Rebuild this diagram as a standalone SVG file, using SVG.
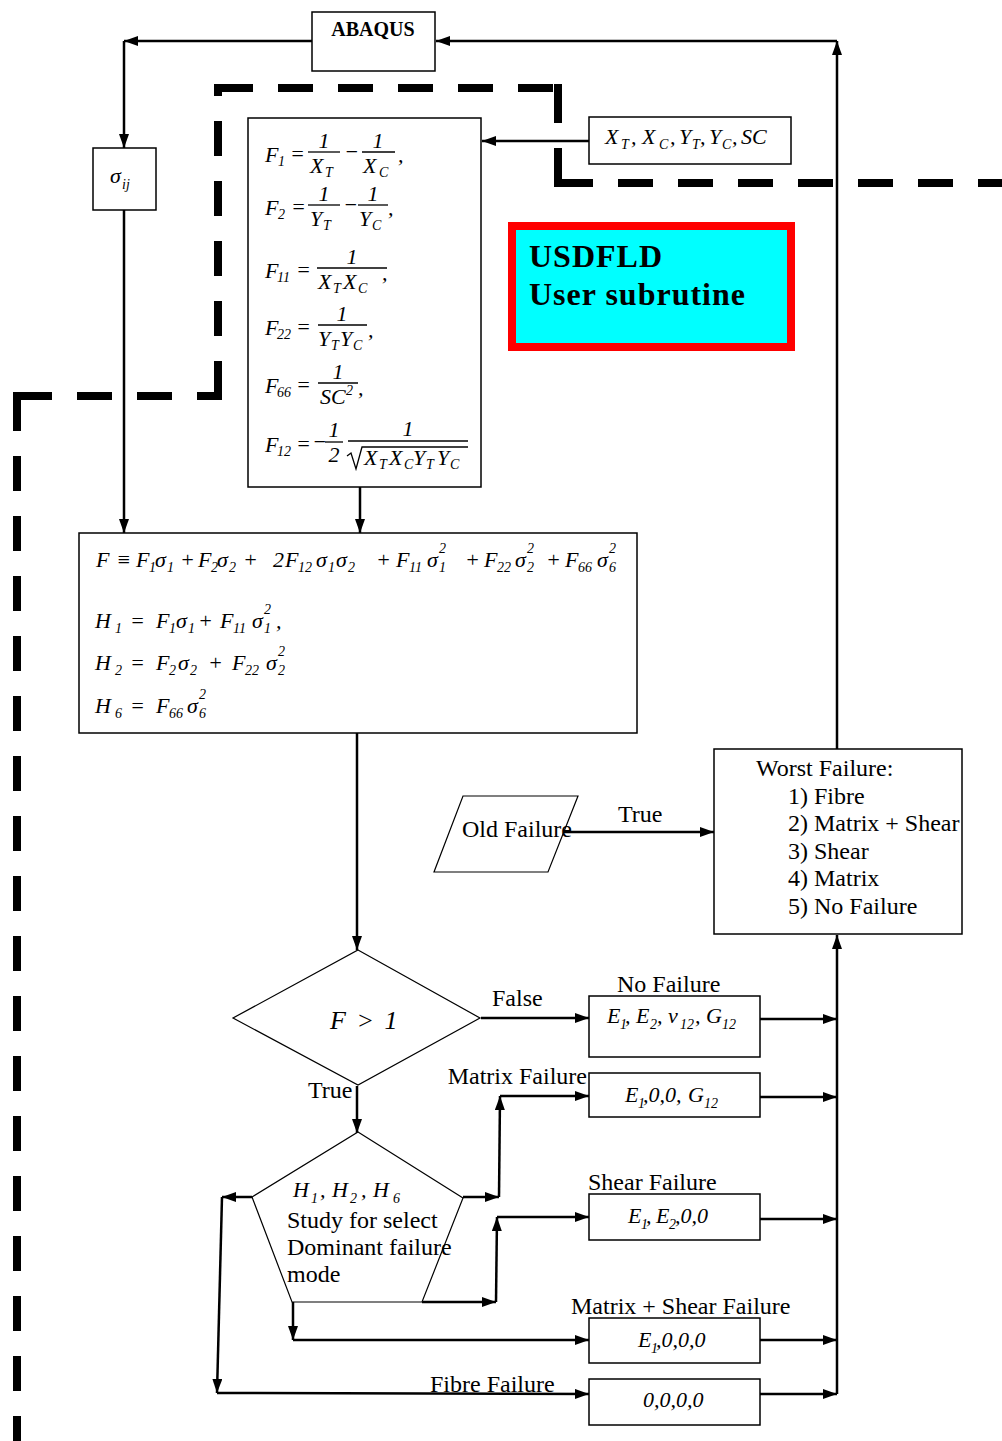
<svg xmlns="http://www.w3.org/2000/svg" width="1002" height="1441" viewBox="0 0 1002 1441">
<defs>
<marker id="ah" markerWidth="14" markerHeight="10" refX="14" refY="5" orient="auto" markerUnits="userSpaceOnUse"><path d="M0,0 L14,5 L0,10 z" fill="#000"/></marker>
<style>
.box{fill:#fff;stroke:#000;stroke-width:1.5}
.shp{fill:#fff;stroke:#000;stroke-width:1.2}
.c{fill:none;stroke:#000;stroke-width:2.5;marker-end:url(#ah)}
.bar{stroke:#000;stroke-width:1.3;fill:none}
.dash{stroke:#000;stroke-width:8;stroke-dasharray:35 25;fill:none}
.t{font-family:"Liberation Serif","Times New Roman",serif;font-size:24px;fill:#000}
.m{font-family:"Liberation Serif","Times New Roman",serif;font-style:italic;font-size:22px;fill:#000}
.s{font-size:14px}
.big{font-size:26px;letter-spacing:2px}
.b{font-family:"Liberation Serif","Times New Roman",serif;font-weight:bold;fill:#000}
</style>
</defs>
<rect width="1002" height="1441" fill="#fff"/>

<g id="dashed-boundary">
<line class="dash" x1="17" y1="396" x2="17" y2="1441"/>
<line class="dash" x1="17" y1="396" x2="218" y2="396"/>
<line class="dash" x1="218" y1="396" x2="218" y2="88"/>
<line class="dash" x1="218" y1="88" x2="558" y2="88"/>
<line class="dash" x1="558" y1="88" x2="558" y2="183"/>
<line class="dash" x1="558" y1="183" x2="1002" y2="183"/>
<rect x="13" y="392" width="8" height="8"/>
<rect x="214" y="392" width="8" height="8"/>
<rect x="214" y="84" width="8" height="8"/>
<rect x="554" y="84" width="8" height="8"/>
<rect x="554" y="179" width="8" height="8"/>
</g>

<g id="connectors">
<line class="c" x1="312" y1="41" x2="124" y2="41"/>
<line class="c" x1="124" y1="41" x2="124" y2="148"/>
<line class="c" x1="837" y1="749" x2="837" y2="41"/>
<line class="c" x1="837" y1="41" x2="436" y2="41"/>
<line class="c" x1="124" y1="210" x2="124" y2="533"/>
<line class="c" x1="589" y1="141" x2="482" y2="141"/>
<line class="c" x1="360" y1="487" x2="360" y2="533"/>
<line class="c" x1="357" y1="733" x2="357" y2="950"/>
<line class="c" x1="481" y1="1018" x2="589" y2="1018"/>
<line class="c" x1="357" y1="1086" x2="357" y2="1133"/>
<line class="c" x1="463" y1="1197" x2="499" y2="1197"/>
<line class="c" x1="499" y1="1197" x2="500" y2="1096"/>
<line class="c" x1="500" y1="1096" x2="589" y2="1096"/>
<line class="c" x1="422" y1="1302" x2="496" y2="1302"/>
<line class="c" x1="496" y1="1302" x2="497" y2="1217"/>
<line class="c" x1="497" y1="1217" x2="589" y2="1217"/>
<line class="c" x1="293" y1="1302" x2="293" y2="1340"/>
<line class="c" x1="293" y1="1340" x2="589" y2="1340"/>
<line class="c" x1="252" y1="1197" x2="222" y2="1197"/>
<line class="c" x1="222" y1="1197" x2="217" y2="1393"/>
<line class="c" x1="217" y1="1393" x2="589" y2="1394"/>
<line class="c" x1="760" y1="1019" x2="837" y2="1019"/>
<line class="c" x1="760" y1="1097" x2="837" y2="1097"/>
<line class="c" x1="760" y1="1219" x2="837" y2="1219"/>
<line class="c" x1="760" y1="1340" x2="837" y2="1340"/>
<line class="c" x1="760" y1="1394" x2="837" y2="1394"/>
<line class="c" x1="837" y1="1394" x2="837" y2="935"/>
<line class="c" x1="563" y1="832" x2="714" y2="832"/>
<text class="t" x="492" y="1006">False</text>
<text class="t" x="308" y="1098">True</text>
<text class="t" x="618" y="822">True</text>
<text class="t" x="587" y="1084" text-anchor="end">Matrix Failure</text>
<text class="t" x="430" y="1392">Fibre Failure</text>
</g>

<g id="abaqus">
<rect class="box" x="312" y="12" width="123" height="59"/>
<text class="b" x="373" y="36" font-size="20" text-anchor="middle">ABAQUS</text>
</g>

<g id="sigma">
<rect class="box" x="93" y="148" width="63" height="62"/>
<text class="m"><tspan x="110" y="183">σ</tspan><tspan class="s" x="122" y="189">ij</tspan></text>
</g>

<g id="inputs">
<rect class="box" x="589" y="117" width="202" height="47"/>
<text class="m"><tspan x="605" y="144">X</tspan><tspan class="s" x="621" y="149">T</tspan><tspan x="631" y="144">,</tspan><tspan x="642" y="144">X</tspan><tspan class="s" x="659" y="149">C</tspan><tspan x="670" y="144">,</tspan><tspan x="679" y="144">Y</tspan><tspan class="s" x="692" y="149">T</tspan><tspan x="700" y="144">,</tspan><tspan x="709" y="144">Y</tspan><tspan class="s" x="722" y="149">C</tspan><tspan x="732" y="144">,</tspan><tspan x="741" y="144">SC</tspan></text>
</g>

<g id="usdfld">
<rect x="512" y="226" width="279" height="121" fill="#00ffff" stroke="#ff0000" stroke-width="8"/>
<text class="b" x="529" y="267" font-size="32" letter-spacing="1">USDFLD</text>
<text class="b" x="529" y="305" font-size="32" letter-spacing="1">User subrutine</text>
</g>

<g id="coefficients">
<rect class="box" x="248" y="118" width="233" height="369"/>
<text class="m"><tspan x="265" y="162">F</tspan><tspan class="s" x="278" y="166">1</tspan><tspan x="290" y="161">=</tspan><tspan x="344" y="159">−</tspan><tspan x="398" y="162">,</tspan></text>
<text class="m" x="324" y="148" text-anchor="middle">1</text>
<text class="m" x="378" y="148" text-anchor="middle">1</text>
<line class="bar" x1="308" y1="152" x2="340" y2="152"/>
<line class="bar" x1="362" y1="152" x2="395" y2="152"/>
<text class="m"><tspan x="310" y="173">X</tspan><tspan class="s" x="325" y="177">T</tspan><tspan x="363" y="173">X</tspan><tspan class="s" x="379" y="177">C</tspan></text>
<text class="m"><tspan x="265" y="215">F</tspan><tspan class="s" x="278" y="219">2</tspan><tspan x="291" y="214">=</tspan><tspan x="343" y="212">−</tspan><tspan x="388" y="215">,</tspan></text>
<text class="m" x="324" y="201" text-anchor="middle">1</text>
<text class="m" x="373" y="201" text-anchor="middle">1</text>
<line class="bar" x1="308" y1="205" x2="340" y2="205"/>
<line class="bar" x1="358" y1="205" x2="388" y2="205"/>
<text class="m"><tspan x="310" y="226">Y</tspan><tspan class="s" x="323" y="230">T</tspan><tspan x="359" y="226">Y</tspan><tspan class="s" x="372" y="230">C</tspan></text>
<text class="m"><tspan x="265" y="278">F</tspan><tspan class="s" x="277" y="282">11</tspan><tspan x="296" y="277">=</tspan><tspan x="382" y="280">,</tspan></text>
<text class="m" x="352" y="264" text-anchor="middle">1</text>
<line class="bar" x1="317" y1="268" x2="387" y2="268"/>
<text class="m"><tspan x="318" y="289">X</tspan><tspan class="s" x="333" y="293">T</tspan><tspan x="343" y="289">X</tspan><tspan class="s" x="358" y="293">C</tspan></text>
<text class="m"><tspan x="265" y="335">F</tspan><tspan class="s" x="277" y="339">22</tspan><tspan x="296" y="334">=</tspan><tspan x="368" y="337">,</tspan></text>
<text class="m" x="342" y="321" text-anchor="middle">1</text>
<line class="bar" x1="318" y1="325" x2="367" y2="325"/>
<text class="m"><tspan x="318" y="346">Y</tspan><tspan class="s" x="331" y="350">T</tspan><tspan x="340" y="346">Y</tspan><tspan class="s" x="353" y="350">C</tspan></text>
<text class="m"><tspan x="265" y="393">F</tspan><tspan class="s" x="277" y="397">66</tspan><tspan x="296" y="392">=</tspan><tspan x="358" y="395">,</tspan></text>
<text class="m" x="338" y="379" text-anchor="middle">1</text>
<line class="bar" x1="318" y1="383" x2="358" y2="383"/>
<text class="m"><tspan x="320" y="404">SC</tspan><tspan class="s" x="346" y="395">2</tspan></text>
<text class="m"><tspan x="265" y="452">F</tspan><tspan class="s" x="277" y="456">12</tspan><tspan x="296" y="451">=</tspan><tspan x="312" y="449">−</tspan></text>
<text class="m" x="334" y="437" text-anchor="middle">1</text>
<text class="m" x="334" y="462" text-anchor="middle">2</text>
<line class="bar" x1="325" y1="442" x2="343" y2="442"/>
<text class="m" x="408" y="436" text-anchor="middle">1</text>
<line class="bar" x1="348" y1="441" x2="468" y2="441"/>
<path class="bar" d="M347,456 L351,453 L356,469 L362,447 L468,447"/>
<text class="m"><tspan x="364" y="465">X</tspan><tspan class="s" x="379" y="469">T</tspan><tspan x="389" y="465">X</tspan><tspan class="s" x="404" y="469">C</tspan><tspan x="413" y="465">Y</tspan><tspan class="s" x="426" y="469">T</tspan><tspan x="437" y="465">Y</tspan><tspan class="s" x="450" y="469">C</tspan></text>
</g>

<g id="criterion">
<rect class="box" x="79" y="533" width="558" height="200"/>
<text class="m"><tspan x="96" y="567">F</tspan><tspan x="116" y="567">≡</tspan><tspan x="136" y="567">F</tspan><tspan class="s" x="149" y="572">1</tspan><tspan x="155" y="567">σ</tspan><tspan class="s" x="167" y="572">1</tspan><tspan x="180" y="567">+</tspan><tspan x="198" y="567">F</tspan><tspan class="s" x="211" y="572">2</tspan><tspan x="217" y="567">σ</tspan><tspan class="s" x="229" y="572">2</tspan><tspan x="243" y="567">+</tspan><tspan x="273" y="567">2</tspan><tspan x="285" y="567">F</tspan><tspan class="s" x="298" y="572">12</tspan><tspan x="316" y="567">σ</tspan><tspan class="s" x="328" y="572">1</tspan><tspan x="336" y="567">σ</tspan><tspan class="s" x="348" y="572">2</tspan><tspan x="376" y="567">+</tspan><tspan x="396" y="567">F</tspan><tspan class="s" x="409" y="572">11</tspan><tspan x="427" y="567">σ</tspan><tspan class="s" x="439" y="572">1</tspan><tspan class="s" x="439" y="553">2</tspan><tspan x="465" y="567">+</tspan><tspan x="484" y="567">F</tspan><tspan class="s" x="497" y="572">22</tspan><tspan x="515" y="567">σ</tspan><tspan class="s" x="527" y="572">2</tspan><tspan class="s" x="527" y="553">2</tspan><tspan x="546" y="567">+</tspan><tspan x="565" y="567">F</tspan><tspan class="s" x="578" y="572">66</tspan><tspan x="597" y="567">σ</tspan><tspan class="s" x="609" y="572">6</tspan><tspan class="s" x="609" y="553">2</tspan></text>
<text class="m"><tspan x="95" y="628">H</tspan><tspan class="s" x="115" y="633">1</tspan><tspan x="130" y="628">=</tspan><tspan x="156" y="628">F</tspan><tspan class="s" x="169" y="633">1</tspan><tspan x="176" y="628">σ</tspan><tspan class="s" x="188" y="633">1</tspan><tspan x="198" y="628">+</tspan><tspan x="220" y="628">F</tspan><tspan class="s" x="233" y="633">11</tspan><tspan x="252" y="628">σ</tspan><tspan class="s" x="264" y="633">1</tspan><tspan class="s" x="264" y="614">2</tspan><tspan x="276" y="628">,</tspan></text>
<text class="m"><tspan x="95" y="670">H</tspan><tspan class="s" x="115" y="675">2</tspan><tspan x="130" y="670">=</tspan><tspan x="156" y="670">F</tspan><tspan class="s" x="169" y="675">2</tspan><tspan x="178" y="670">σ</tspan><tspan class="s" x="190" y="675">2</tspan><tspan x="208" y="670">+</tspan><tspan x="232" y="670">F</tspan><tspan class="s" x="245" y="675">22</tspan><tspan x="266" y="670">σ</tspan><tspan class="s" x="278" y="675">2</tspan><tspan class="s" x="278" y="656">2</tspan></text>
<text class="m"><tspan x="95" y="713">H</tspan><tspan class="s" x="115" y="718">6</tspan><tspan x="130" y="713">=</tspan><tspan x="156" y="713">F</tspan><tspan class="s" x="169" y="718">66</tspan><tspan x="187" y="713">σ</tspan><tspan class="s" x="199" y="718">6</tspan><tspan class="s" x="199" y="699">2</tspan></text>
</g>

<g id="old-failure">
<polygon class="shp" points="463,796 578,796 548,872 434,872"/>
<text class="t" x="462" y="837">Old Failure</text>
</g>

<g id="worst-failure">
<rect class="box" x="714" y="749" width="248" height="185"/>
<text class="t" x="756" y="776">Worst Failure:</text>
<text class="t" x="788" y="804">1)  Fibre</text>
<text class="t" x="788" y="831">2)  Matrix + Shear</text>
<text class="t" x="788" y="859">3)  Shear</text>
<text class="t" x="788" y="886">4)  Matrix</text>
<text class="t" x="788" y="914">5)  No Failure</text>
</g>

<g id="decision">
<polygon class="shp" points="358,950 480,1018 358,1085 233,1018"/>
<text class="m big" x="330" y="1029">F &gt; 1</text>
</g>

<g id="dominant-mode">
<polygon class="shp" points="358,1132 463,1198 422,1302 292,1302 252,1197"/>
<text class="m"><tspan x="293" y="1197">H</tspan><tspan class="s" x="311" y="1203">1</tspan><tspan x="320" y="1197">,</tspan><tspan x="332" y="1197">H</tspan><tspan class="s" x="350" y="1203">2</tspan><tspan x="361" y="1197">,</tspan><tspan x="373" y="1197">H</tspan><tspan class="s" x="393" y="1203">6</tspan></text>
<text class="t" x="287" y="1228">Study for select</text>
<text class="t" x="287" y="1255">Dominant failure</text>
<text class="t" x="287" y="1282">mode</text>
</g>

<g id="no-failure">
<text class="t" x="617" y="992">No Failure</text>
<rect class="box" x="589" y="996" width="171" height="61"/>
<text class="m"><tspan x="607" y="1023">E</tspan><tspan class="s" x="620" y="1029">1</tspan><tspan x="625" y="1023">,</tspan><tspan x="636" y="1023">E</tspan><tspan class="s" x="650" y="1029">2</tspan><tspan x="657" y="1023">,</tspan><tspan x="668" y="1023">ν</tspan><tspan class="s" x="680" y="1029">12</tspan><tspan x="695" y="1023">,</tspan><tspan x="706" y="1023">G</tspan><tspan class="s" x="722" y="1029">12</tspan></text>
</g>

<g id="matrix-failure">
<rect class="box" x="589" y="1073" width="171" height="44"/>
<text class="m"><tspan x="625" y="1102">E</tspan><tspan class="s" x="638" y="1108">1</tspan><tspan x="643" y="1102">,0,0,</tspan><tspan x="688" y="1102">G</tspan><tspan class="s" x="704" y="1108">12</tspan></text>
</g>

<g id="shear-failure">
<text class="t" x="588" y="1190">Shear Failure</text>
<rect class="box" x="589" y="1194" width="171" height="46"/>
<text class="m"><tspan x="628" y="1223">E</tspan><tspan class="s" x="641" y="1229">1</tspan><tspan x="646" y="1223">,</tspan><tspan x="656" y="1223">E</tspan><tspan class="s" x="669" y="1229">2</tspan><tspan x="675" y="1223">,0,0</tspan></text>
</g>

<g id="matrix-shear-failure">
<text class="t" x="571" y="1314">Matrix + Shear Failure</text>
<rect class="box" x="589" y="1318" width="171" height="45"/>
<text class="m"><tspan x="638" y="1347">E</tspan><tspan class="s" x="651" y="1353">1</tspan><tspan x="656" y="1347">,0,0,0</tspan></text>
</g>

<g id="fibre-failure">
<rect class="box" x="589" y="1379" width="171" height="46"/>
<text class="m" x="643" y="1407">0,0,0,0</text>
</g>
</svg>
